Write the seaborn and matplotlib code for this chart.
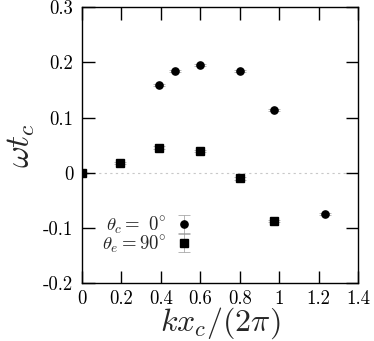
import numpy as np
import pandas as pd
import seaborn as sns
import matplotlib
matplotlib.use("Agg")
import matplotlib.pyplot as plt

# theta_c = 0 deg
x_c0 = [0.39, 0.473, 0.597, 0.803, 0.971, 1.229]
y_c0 = [0.159, 0.185, 0.195, 0.185, 0.114, -0.075]
# theta_e = 90 deg
x_e90 = [0.0, 0.194, 0.392, 0.597, 0.803, 0.971]
y_e90 = [0.0, 0.018, 0.046, 0.039, -0.010, -0.087]
err = 0.002

xticks = [0, 0.2, 0.4, 0.6, 0.8, 1, 1.2, 1.4]
xticklabels = ["0", "0.2", "0.4", "0.6", "0.8", "1", "1.2", "1.4"]
yticks = [-0.2, -0.1, 0, 0.1, 0.2, 0.3]
yticklabels = ["-0.2", "-0.1", "0", "0.1", "0.2", "0.3"]

labels = [r"$\theta_c = \ 0^{\circ}$", r"$\theta_e = 90^{\circ}$"]

sns.set_theme()
sns.set_style("ticks")
plt.rcParams["font.family"] = ["cmr10", "DejaVu Serif"]
plt.rcParams["mathtext.fontset"] = "cm"
plt.rcParams["axes.unicode_minus"] = False
plt.rcParams["axes.formatter.use_mathtext"] = True

fig = plt.figure(figsize=(3.74, 3.41), dpi=100)
ax = fig.add_axes([0.2184, 0.1692, 0.958 - 0.2184, 0.9786 - 0.1692])

df = pd.concat([
    pd.DataFrame({"x": x_c0, "y": y_c0, "set": labels[0]}),
    pd.DataFrame({"x": x_e90, "y": y_e90, "set": labels[1]}),
])

ax.axhline(0, color="#c8c8c8", lw=0.8, ls=(0, (2, 3)), zorder=0)

for (name, sub), m in zip(df.groupby("set", sort=False), ["o", "s"]):
    ax.errorbar(sub["x"], sub["y"], yerr=err, fmt=m, color="black",
                ecolor="#999999", elinewidth=0.5, capsize=4, capthick=0.5,
                ms=5.2, label=name)

ax.set_xlim(0, 1.4)
ax.set_ylim(-0.2, 0.3)
ax.set_xticks(xticks)
ax.set_xticklabels(xticklabels)
ax.set_yticks(yticks)
ax.set_yticklabels(yticklabels)
ax.tick_params(direction="in", length=9, width=1, top=True, right=True,
               labelsize=13.5, colors="black", pad=6)
ax.tick_params(axis="x", pad=5)
for s in ax.spines.values():
    s.set_linewidth(1)
    s.set_color("black")

ax.set_xlabel(r"$kx_c/(2\pi)$", fontsize=23, labelpad=-2)
ax.set_ylabel(r"$\omega t_c$", fontsize=24, labelpad=4)

leg = ax.legend(loc="lower left", bbox_to_anchor=(0.04, 0.07), frameon=False,
                markerfirst=False, fontsize=13.5, handlelength=0.8,
                handletextpad=0.5, labelspacing=-0.15, borderpad=0)

fig.savefig("out.png", dpi=100)
